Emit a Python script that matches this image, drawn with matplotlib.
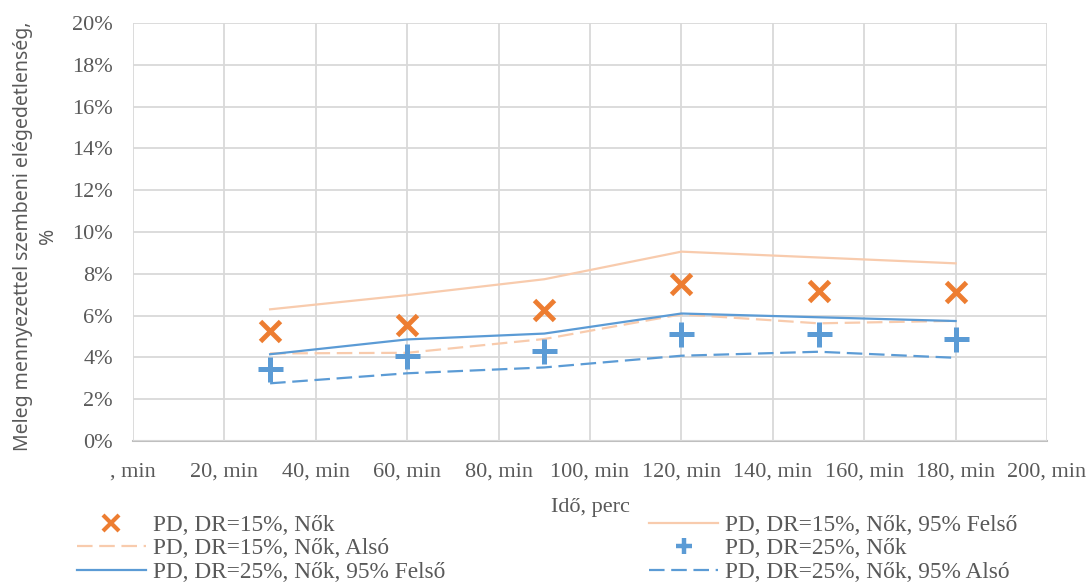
import matplotlib
matplotlib.use("Agg")
import matplotlib.pyplot as plt
from matplotlib.ticker import MultipleLocator, FuncFormatter

# Elapsed time, minutes
ido = [30, 60, 90, 120, 150, 180]

# Predicted dissatisfaction (fraction) with 95% bounds
pd15_nok = [0.0526, 0.0555, 0.0627, 0.0750, 0.0718, 0.0712]
pd15_felso = [0.0630, 0.0698, 0.0774, 0.0906, 0.0878, 0.0850]
pd15_also = [0.0419, 0.0422, 0.0488, 0.0606, 0.0563, 0.0575]
pd25_nok = [0.0343, 0.0407, 0.0432, 0.0510, 0.0510, 0.0486]
pd25_felso = [0.0415, 0.0486, 0.0514, 0.0610, 0.0592, 0.0574]
pd25_also = [0.0276, 0.0324, 0.0352, 0.0408, 0.0427, 0.0398]

x_ticks = [0, 20, 40, 60, 80, 100, 120, 140, 160, 180, 200]
x_ticklabels = [", min"] + [f"{v}, min" for v in x_ticks[1:]]

ORANGE = "#ED7D31"
PEACH = "#F8CBAD"
BLUE = "#5B9BD5"
TXT = "#595959"
GRID = "#D9D9D9"
SERIF = "Liberation Serif"
FS = 16
LEG_FS = 16.8

fig = plt.figure(figsize=(10.91, 5.88), dpi=100)
ax = fig.add_axes([0.1219, 0.25, 0.8378, 0.7109])

h_x, = ax.plot(ido, pd15_nok, linestyle="none", marker="x", color=ORANGE,
               markersize=14.5, markeredgewidth=3.5, label="PD, DR=15%, Nők")
h_f15, = ax.plot(ido, pd15_felso, color=PEACH, lw=1.6,
                 label="PD, DR=15%, Nők, 95% Felső")
h_a15, = ax.plot(ido, pd15_also, color=PEACH, lw=1.6, dashes=(7, 3),
                 label="PD, DR=15%, Nők, Alsó")
h_p, = ax.plot(ido, pd25_nok, linestyle="none", marker="+", color=BLUE,
               markersize=18, markeredgewidth=3.6, label="PD, DR=25%, Nők")
h_f25, = ax.plot(ido, pd25_felso, color=BLUE, lw=1.6,
                 label="PD, DR=25%, Nők, 95% Felső")
h_a25, = ax.plot(ido, pd25_also, color=BLUE, lw=1.6, dashes=(7, 3),
                 label="PD, DR=25%, Nők, 95% Alsó")

ax.set_xlim(0, 200)
ax.set_ylim(0, 0.20)
ax.set_xticks(x_ticks)
ax.set_xticklabels(x_ticklabels)
ax.yaxis.set_major_locator(MultipleLocator(0.02))
ax.yaxis.set_major_formatter(FuncFormatter(lambda v, p: f"{v * 100:.0f}%"))

ax.grid(True, color=GRID, lw=1.3)
ax.set_axisbelow(True)
for side in ("top", "right", "left"):
    ax.spines[side].set_visible(False)
ax.spines["bottom"].set_color("#BFBFBF")
ax.spines["bottom"].set_linewidth(1.5)
ax.spines["bottom"].set_zorder(0.5)
ax.tick_params(length=0, labelcolor=TXT)
ax.tick_params(axis="x", pad=15.5)
ax.tick_params(axis="y", pad=14.5)
for lab in ax.get_xticklabels() + ax.get_yticklabels():
    lab.set_fontfamily(SERIF)
    lab.set_fontsize(FS)

ax.set_xlabel("Idő, perc", fontfamily=SERIF, fontsize=FS, color=TXT, labelpad=12)
ax.set_ylabel("Meleg mennyezettel szembeni elégedetlenség,\n%", fontfamily="Noto Sans",
              fontsize=14, color=TXT, linespacing=1.35)
ax.yaxis.set_label_coords(-0.082, 0.49)

# Legend fills column-wise, so order the handles to read row by row
handles = [h_x, h_a15, h_f25, h_f15, h_p, h_a25]
leg = fig.legend(handles=handles, labels=[h.get_label() for h in handles],
                 ncol=2, loc="upper left", bbox_to_anchor=(0.0706, 0.125),
                 frameon=False, handlelength=2.95, handletextpad=0.3,
                 columnspacing=8.75, labelspacing=0.1, borderpad=0.0,
                 borderaxespad=0.0, prop={"family": SERIF, "size": LEG_FS})
for t in leg.get_texts():
    t.set_color(TXT)
for lh in leg.legend_handles:
    if lh.get_marker() == "x":
        lh.set_markersize(11)
        lh.set_markeredgewidth(3)
    elif lh.get_marker() == "+":
        lh.set_markersize(12)
        lh.set_markeredgewidth(3.2)

fig.savefig("out.png", dpi=100)
